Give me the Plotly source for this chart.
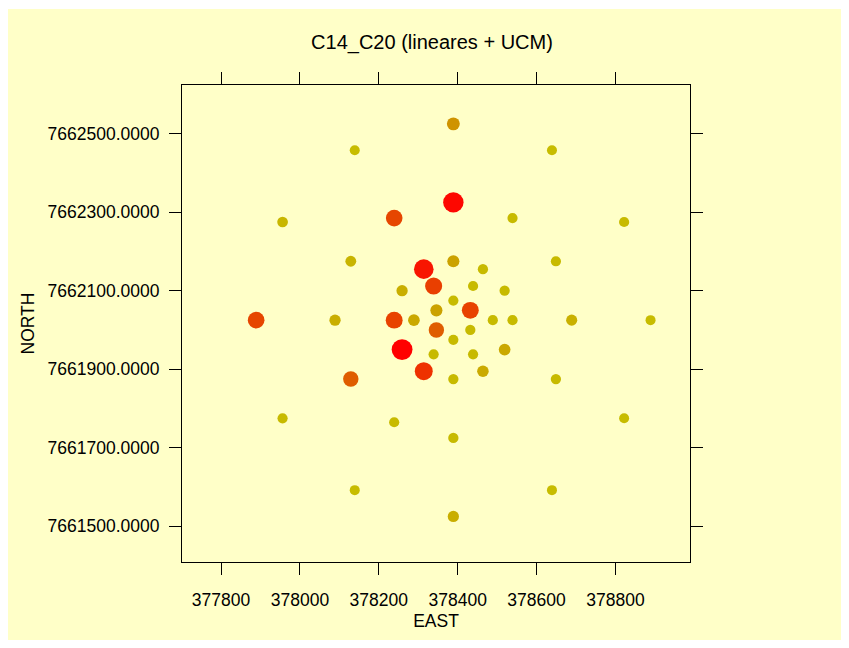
import plotly.graph_objects as go

# Sampling points: easting / northing (m) and the C14_C20 value at each one
east = [
    378389, 378139, 378639, 377956, 378822, 377889, 378889, 377956, 378822, 378139, 378639, 378389,
    378389, 378239, 378539, 378129, 378649, 378089, 378689, 378129, 378649, 378239, 378389,
    378389, 378314, 378464, 378259, 378519, 378239, 378539, 378259, 378519, 378314, 378464, 378389,
    378339, 378439, 378289, 378489, 378339, 378439,
    378389, 378346, 378432, 378346, 378432, 378389,
]
north = [
    7662525, 7662458, 7662458, 7662275, 7662275, 7662025, 7662025, 7661775, 7661775, 7661592, 7661592, 7661525,
    7662325, 7662285, 7662285, 7662175, 7662175, 7662025, 7662025, 7661875, 7661875, 7661765, 7661725,
    7662175, 7662155, 7662155, 7662100, 7662100, 7662025, 7662025, 7661950, 7661950, 7661895, 7661895, 7661875,
    7662112, 7662112, 7662025, 7662025, 7661938, 7661938,
    7662075, 7662050, 7662050, 7662000, 7662000, 7661975,
]
c14_c20 = [
    4.5, 1.0, 1.0, 1.8, 1.2, 9.0, 1.0, 1.2, 1.0, 1.0, 1.0, 2.5,
    13.5, 9.0, 1.2, 2.0, 1.2, 2.5, 2.3, 7.5, 1.3, 1.2, 1.3,
    3.5, 12.5, 1.3, 2.5, 1.3, 9.3, 1.2, 14.0, 3.0, 10.5, 2.8, 1.3,
    9.5, 1.2, 3.0, 1.2, 1.2, 1.2,
    1.2, 3.5, 9.3, 7.5, 1.3, 1.2,
]

x_ticks = [377800, 378000, 378200, 378400, 378600, 378800]
y_ticks = [7661500, 7661700, 7661900, 7662100, 7662300, 7662500]

BG = "#FFFFC8"

# bubble diameter grows with the value
sizes = [9.2 + 0.83 * v for v in c14_c20]

fig = go.Figure(
    go.Scatter(
        x=east,
        y=north,
        mode="markers",
        marker=dict(
            size=sizes,
            color=c14_c20,
            cmin=0,
            cmax=14,
            colorscale=[
                [0.0, "#C6C400"],
                [2 / 14, "#C8B400"],
                [4 / 14, "#CC9C00"],
                [7 / 14, "#DC6400"],
                [9 / 14, "#E64600"],
                [12 / 14, "#F61C00"],
                [1.0, "#FF0000"],
            ],
            line=dict(width=0),
            opacity=1,
        ),
        hoverinfo="x+y+text",
        text=[f"{v}" for v in c14_c20],
        showlegend=False,
    )
)

font = dict(family="Liberation Sans, Arial, sans-serif", color="black")

axis_common = dict(
    showline=True,
    linecolor="black",
    linewidth=1,
    mirror="ticks",
    ticks="outside",
    ticklen=12,
    tickwidth=1,
    tickcolor="black",
    showgrid=False,
    zeroline=False,
    tickfont=dict(size=17.5, **font),
)

fig.update_layout(
    width=849,
    height=648,
    margin=dict(l=182, r=159, t=85, b=86),
    paper_bgcolor="white",
    plot_bgcolor=BG,
    font=font,
    title=dict(
        text="C14_C20 (lineares + UCM)",
        x=432 / 849,
        xanchor="center",
        y=1 - 42 / 648,
        yanchor="middle",
        font=dict(size=20, **font),
    ),
    xaxis=dict(
        range=[377701, 378989],
        tickvals=x_ticks,
        ticktext=[str(v) for v in x_ticks],
        ticklabelstandoff=10,
        title=dict(text="EAST", font=dict(size=17.5, **font), standoff=5),
        **axis_common,
    ),
    yaxis=dict(
        range=[7661409, 7662624],
        tickvals=y_ticks,
        ticktext=[f"{v:.4f}" for v in y_ticks],
        ticklabelstandoff=6,
        title=dict(text="NORTH", font=dict(size=17.5, **font), standoff=8),
        **axis_common,
    ),
    shapes=[
        dict(
            type="rect",
            xref="paper",
            yref="paper",
            x0=(8 - 182) / 508,
            x1=(841 - 182) / 508,
            y0=(562 - 640) / 477,
            y1=(562 - 9) / 477,
            fillcolor=BG,
            line=dict(width=0),
            layer="below",
        )
    ],
)

fig.write_html("out.html")
